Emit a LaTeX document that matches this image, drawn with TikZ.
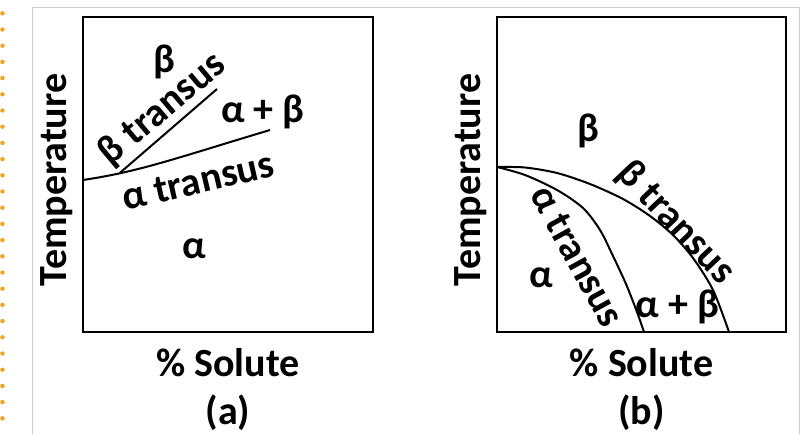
\documentclass[tikz,border=0pt]{standalone}
\usepackage{fontspec}
\setmainfont{Carlito}
\definecolor{dotorange}{RGB}{247,160,30}
\definecolor{framegray}{RGB}{205,205,205}
\begin{document}
\begin{tikzpicture}[x=1pt,y=-1pt,
  lbl/.style={font=\fontsize{40}{48}\selectfont\bfseries, inner sep=0pt},
  boxframe/.style={draw, line width=2.6pt},
  curve/.style={line width=2pt}]
\useasboundingbox (0,0) rectangle (810,434);
\fill[white] (0,0) rectangle (810,434);
\foreach \i in {0,...,25} \fill[dotorange] (2.5,13.3+16.2*\i) circle (2.2);
\draw[framegray, line width=1pt] (32,434) -- (32,7) -- (799,7) -- (799,434);

% ---------- (a) ----------
\draw[boxframe] (83,17) rectangle (373,332);
\coordinate (aL) at (83,180);
\coordinate (aR) at (270,130);
\coordinate (bS) at (120,172.8);
\coordinate (bE) at (217,89);
\draw[curve] (aL) .. controls (140,171.5) and (175,158.5) .. (aR);
\draw[curve] (bS) -- (bE);
\node[lbl, anchor=base] (betaA) at (164,72) {β};
\node[lbl, rotate=40] (btA) at (162.5,109.5) {β transus};
\node[lbl, anchor=base] (abA) at (263,122) {α + β};
\node[lbl, rotate=13] (atA) at (198,181) {α transus};
\node[lbl, anchor=base] (alA) at (194,258) {α};
\node[lbl, rotate=90, anchor=base] (tA) at (66,180) {Temperature};
\node[lbl, anchor=base] (sA) at (228,376) {\% Solute};
\node[lbl, anchor=base] (cA) at (228,424) {(a)};

% ---------- (b) ----------
\draw[boxframe] (497,17) rectangle (786,332);
\draw[curve] plot[smooth] coordinates {(497,167) (525,167.5) (557,173) (590,184) (623,199) (650,216) (673,235) (693,258) (713,290) (729,332)};
\draw[curve] plot[smooth] coordinates {(497,167) (525,175) (557,190) (583,208) (600,230) (613,256) (626,284) (637,312) (644,332)};
\node[lbl, anchor=base] (betaB) at (588,141) {β};
\node[lbl, rotate=-46.5] (btB) at (675.5,223) {β transus};
\node[lbl, rotate=-61.4] (atB) at (577,256) {α transus};
\node[lbl, anchor=base] (alB) at (541,287) {α};
\node[lbl, anchor=base] (abB) at (677.5,317) {α + β};
\node[lbl, rotate=90, anchor=base] (tB) at (480,180) {Temperature};
\node[lbl, anchor=base] (sB) at (641.5,376) {\% Solute};
\node[lbl, anchor=base] (cB) at (641.5,424) {(b)};
\end{tikzpicture}
\end{document}
